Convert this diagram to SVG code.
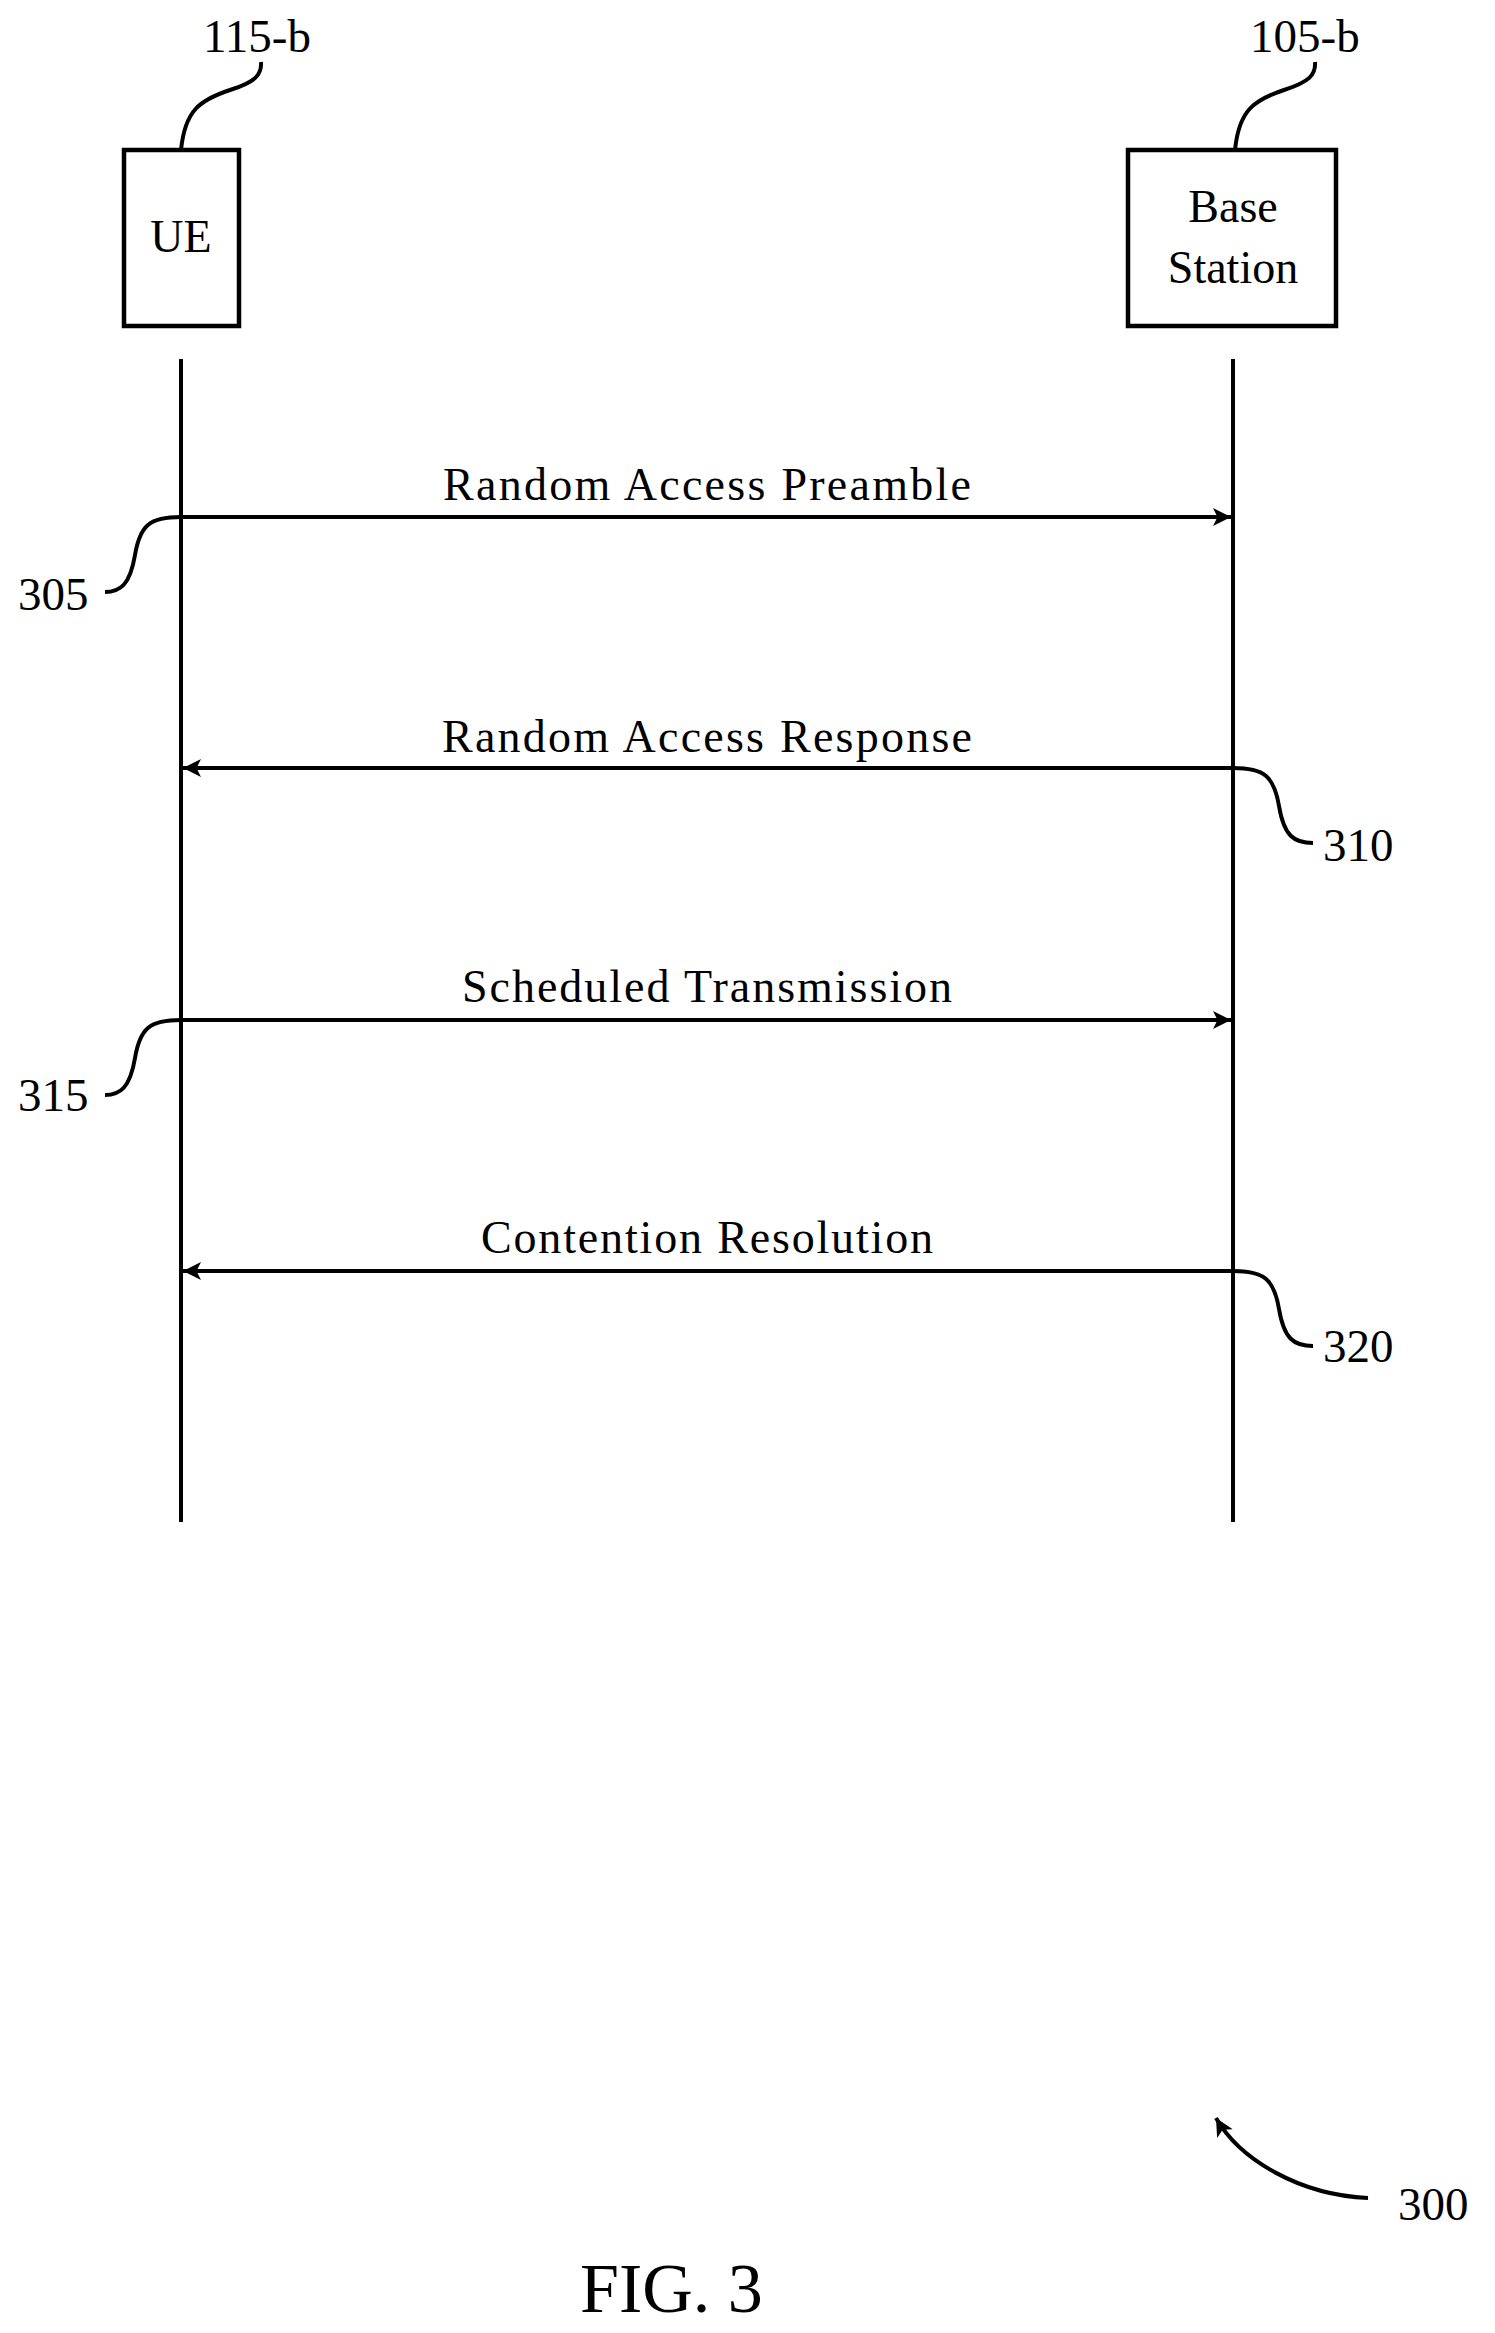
<svg xmlns="http://www.w3.org/2000/svg" width="1495" height="2333" viewBox="0 0 1495 2333">
<style>
text{font-family:"Liberation Serif","Times New Roman",serif;fill:#000}
.n{font-size:47px}
.l{font-size:46px;text-anchor:middle}
.b{fill:#fff;stroke:#000;stroke-width:4.5}
.w{fill:none;stroke:#000;stroke-width:4}
</style>
<defs>
<marker id="a" viewBox="0 0 10 10" refX="10" refY="5" markerWidth="5.5" markerHeight="4.5" orient="auto" markerUnits="strokeWidth"><path d="M0,0L10,5L0,10L2.5,5z" fill="#000"/></marker>
</defs>
<g id="ue"><rect class="b" x="124" y="150" width="115" height="176"/><text class="l" x="181" y="252">UE</text></g>
<g id="bs"><rect class="b" x="1128" y="150" width="208" height="176"/><text class="l" x="1233" y="222">Base</text><text class="l" x="1233" y="283">Station</text></g>
<g id="labels">
<text class="n" x="203" y="52">115-b</text>
<text class="n" x="1250" y="52">105-b</text>
<text class="n" x="18" y="610">305</text>
<text class="n" x="1323" y="861">310</text>
<text class="n" x="18" y="1111">315</text>
<text class="n" x="1323" y="1362">320</text>
<text class="n" x="1398" y="2220">300</text>
<text x="580" y="2312" style="font-size:70px">FIG. 3</text>
</g>
<g id="connectors">
<path class="w" d="M181,359V1522M1233,359V1522"/>
<path class="w" d="M181,150C185,110 200,100 230,90C255,82 262,75 261,62"/>
<path class="w" d="M1235,150C1239,110 1254,100 1284,90C1309,82 1316,75 1315,62"/>
<path class="w" d="M181,517C150,517 140,525 135,555C130,585 120,592 105,592"/>
<path class="w" d="M181,1020C150,1020 140,1028 135,1058C130,1088 120,1095 105,1095"/>
<path class="w" d="M1233,768C1264,768 1274,776 1279,806C1284,836 1294,843 1313,843"/>
<path class="w" d="M1233,1271C1264,1271 1274,1279 1279,1309C1284,1339 1294,1346 1313,1346"/>
<path class="w" marker-end="url(#a)" d="M181,517H1231"/>
<path class="w" marker-end="url(#a)" d="M1233,768H183"/>
<path class="w" marker-end="url(#a)" d="M181,1020H1231"/>
<path class="w" marker-end="url(#a)" d="M1233,1271H183"/>
<path class="w" marker-end="url(#a)" d="M1368,2198C1300,2195 1240,2160 1216,2118"/>
<text class="l" x="707" y="500" textLength="528">Random Access Preamble</text>
<text class="l" x="707" y="752" textLength="530">Random Access Response</text>
<text class="l" x="707" y="1002" textLength="490">Scheduled Transmission</text>
<text class="l" x="707" y="1253" textLength="452">Contention Resolution</text>
</g>
</svg>
